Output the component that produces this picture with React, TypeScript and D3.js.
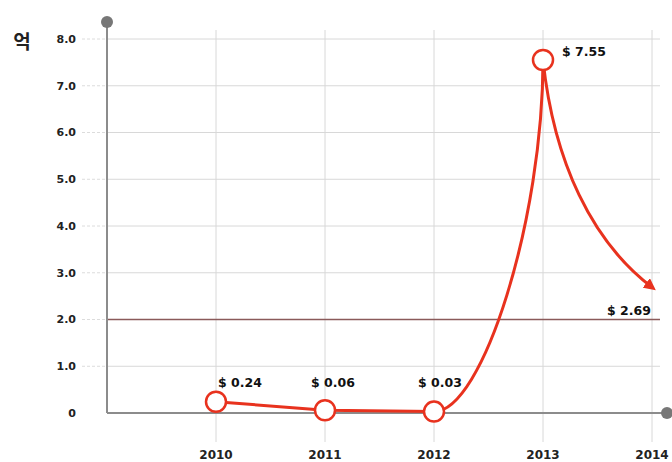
import React from "react";
import * as d3 from "d3";

const years = ["2010", "2011", "2012", "2013", "2014"];
const values = [0.24, 0.06, 0.03, 7.55, 2.69];
const valueLabels = ["$ 0.24", "$ 0.06", "$ 0.03", "$ 7.55", "$ 2.69"];
const yTicks = [0, 1, 2, 3, 4, 5, 6, 7, 8];
const yTickLabels = ["0", "1.0", "2.0", "3.0", "4.0", "5.0", "6.0", "7.0", "8.0"];
const unitLabel = "억";

const W = 672;
const H = 462;
const axisX = 107;

export default function App() {
  const x = d3.scalePoint<string>().domain(years).range([216, 652]);
  const y = d3.scaleLinear().domain([0, 8]).range([413, 39]);

  const pts = years.map((yr, i) => [x(yr) as number, y(values[i])] as [number, number]);

  const p = d3.path();
  p.moveTo(pts[0][0], pts[0][1]);
  p.lineTo(pts[1][0], pts[1][1]);
  p.lineTo(pts[2][0], pts[2][1]);
  {
    const [x0, y0] = pts[2];
    const [x1, y1] = pts[3];
    const dx = x1 - x0, dy = y0 - y1;
    p.bezierCurveTo(x0 + 0.45 * dx, y0, x1, y1 + 0.45 * dy, x1, y1);
  }
  {
    const [x0, y0] = pts[3];
    const [x1, y1] = pts[4];
    const dx = x1 - x0, dy = y1 - y0;
    p.bezierCurveTo(x0 + 0.1 * dx, y0 + 0.45 * dy, x0 + 0.45 * dx, y0 + 0.8 * dy, x1, y1);
  }

  const font = "'DejaVu Sans', Verdana, sans-serif";
  const red = "#e8321e";

  const labelPos: [number, number][] = [
    [24, 387],
    [8, 387],
    [6, 387],
    [41, -4],
    [-23, 28],
  ];

  return (
    <svg
      width={W}
      height={H}
      style={{ position: "absolute", left: 0, top: 0, background: "#fff" }}
      fontFamily={font}
    >
      <defs>
        <marker
          id="arrow"
          viewBox="0 0 10 10"
          refX="6"
          refY="5"
          markerWidth="4"
          markerHeight="4"
          orient="auto"
        >
          <path d="M0,0 L10,5 L0,10 z" fill={red} />
        </marker>
      </defs>

      {years.map((yr) => (
        <line
          key={"v" + yr}
          x1={x(yr)}
          x2={x(yr)}
          y1={30}
          y2={442}
          stroke="#d8d8d8"
          strokeWidth={1}
        />
      ))}

      {yTicks.map((t) =>
        t === 0 ? null : (
          <g key={"h" + t}>
            <line
              x1={82}
              x2={axisX}
              y1={y(t)}
              y2={y(t)}
              stroke="#dcdcdc"
              strokeWidth={1}
              strokeDasharray="3,2"
            />
            <line
              x1={axisX}
              x2={660}
              y1={y(t)}
              y2={y(t)}
              stroke={t === 2 ? "#8a5a5a" : "#d8d8d8"}
              strokeWidth={t === 2 ? 1.4 : 1}
            />
          </g>
        )
      )}

      <line x1={axisX} x2={axisX} y1={22} y2={y(0)} stroke="#8c8c8c" strokeWidth={2} />
      <line x1={axisX} x2={667} y1={y(0)} y2={y(0)} stroke="#8c8c8c" strokeWidth={2} />
      <circle cx={axisX} cy={22} r={6} fill="#777" />
      <circle cx={667} cy={y(0)} r={6} fill="#777" />

      {yTicks.map((t, i) => (
        <text
          key={"yl" + t}
          x={76}
          y={y(t)}
          dy="0.36em"
          textAnchor="end"
          fontSize={11}
          fontWeight="bold"
          fill="#222"
        >
          {yTickLabels[i]}
        </text>
      ))}

      {years.map((yr) => (
        <text
          key={"xl" + yr}
          x={x(yr)}
          y={459}
          textAnchor="middle"
          fontSize={12}
          fontWeight="bold"
          fill="#222"
        >
          {yr}
        </text>
      ))}

      <text x={22} y={49} textAnchor="middle" fontSize={19} fontWeight="bold" fill="#222"
        fontFamily="'Noto Sans CJK KR', sans-serif">
        {unitLabel}
      </text>

      <path
        d={p.toString()}
        fill="none"
        stroke={red}
        strokeWidth={3}
        markerEnd="url(#arrow)"
      />

      {pts.slice(0, 4).map(([cx, cy], i) => (
        <circle key={"c" + i} cx={cx} cy={cy} r={10} fill="#fff" stroke={red} strokeWidth={2.5} />
      ))}

      {pts.map(([cx, cy], i) => (
        <text
          key={"vl" + i}
          x={cx + labelPos[i][0]}
          y={i < 3 ? labelPos[i][1] : cy + labelPos[i][1]}
          textAnchor="middle"
          fontSize={12.5}
          fontWeight="bold"
          fill="#111"
        >
          {valueLabels[i]}
        </text>
      ))}
    </svg>
  );
}
